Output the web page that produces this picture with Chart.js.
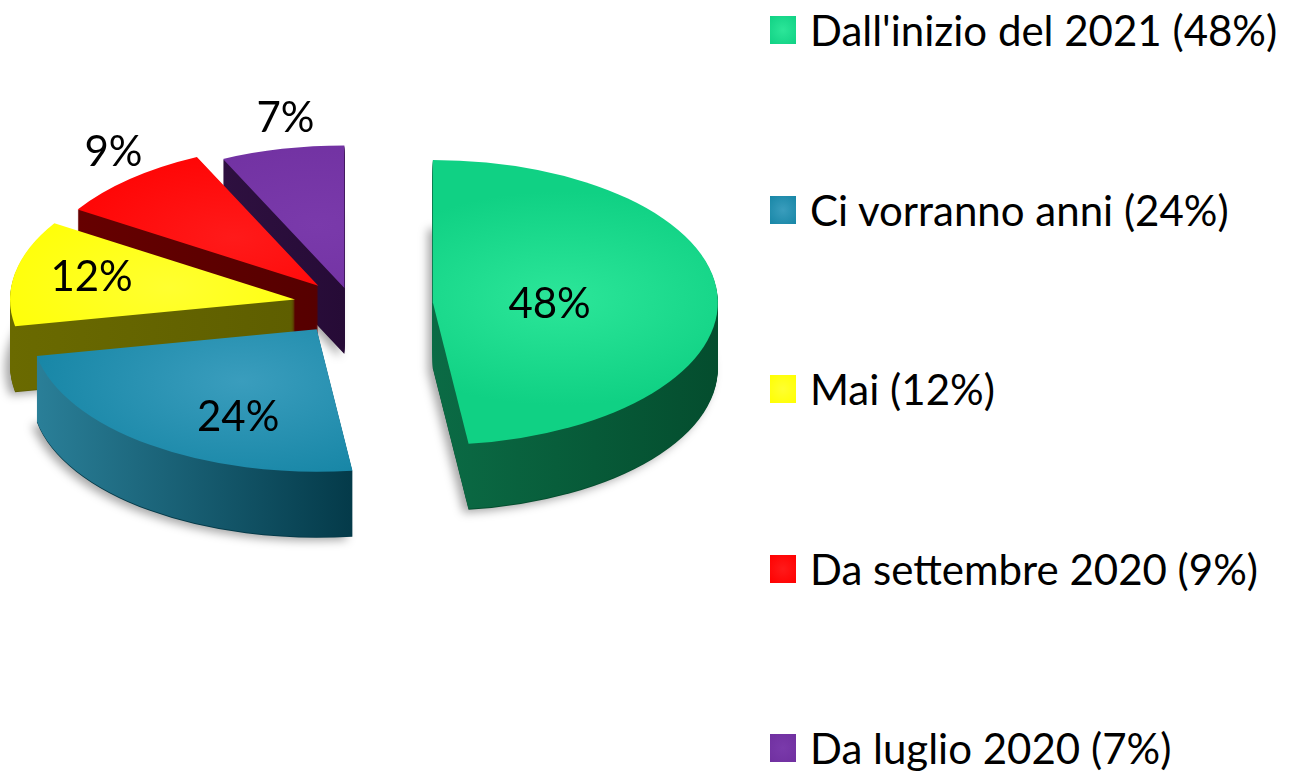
<!DOCTYPE html>
<html>
<head>
<meta charset="utf-8">
<script src="https://cdn.jsdelivr.net/npm/chart.js@4.4.1/dist/chart.umd.min.js"></script>
<style>
  html, body { margin: 0; padding: 0; background: #fff; overflow: hidden; }
  #wrap { position: relative; width: 1300px; height: 773px; }
  #pie { position: absolute; left: 0; top: 0; }
  #legend {
    position: absolute; left: 770px; top: 0; height: 778px;
    display: flex; flex-direction: column; justify-content: space-between;
    font-family: Lato, sans-serif; font-size: 42px; color: #000;
  }
  .item { height: 60px; display: flex; align-items: center; white-space: nowrap; }
  .box { width: 26px; height: 28px; margin-right: 14px; flex: none; }
</style>
</head>
<body>
<div id="wrap">
  <canvas id="pie" width="760" height="773"></canvas>
  <div id="legend"></div>
</div>
<script>
// data
const categories = ["Dall'inizio del 2021", "Ci vorranno anni", "Mai", "Da settembre 2020", "Da luglio 2020"];
const shares = [48, 24, 12, 9, 7];

// colours: top face, highlight, side faces (light -> dark)
const topColors = ["#10d184", "#1786a6", "#ffff00", "#ff0000", "#7030a0"];
const glowColors = ["#2ce699", "#3a9dbd", "#ffff30", "#ff1a1a", "#7a3aab"];
const sideLight = ["#0b6b45", "#2a7f98", "#6a6a00", "#660000", "#2e1040"];
const sideDark = ["#044d2e", "#043a49", "#5e5e00", "#560000", "#260b36"];

// 3d look
const K = 0.5;        // vertical squash of the tilted disc
const DEPTH = 66;     // thickness in px
const CX = 352, CY = 305;
const explode = [81, 60, 58, 51, 35];
// label spot per slice: [fraction of the slice angle, fraction of radius]
const labelSpot = [[0.535, 0.41], [0.36, 0.68], [0.53, 0.73], [0.62, 1.18], [0.61, 1.21]];

function tilt(ctx, arc, dy, push) {
  const mid = (arc.startAngle + arc.endAngle) / 2;
  ctx.translate(CX, CY + dy);
  ctx.scale(1, K);
  ctx.translate(-arc.x + Math.cos(mid) * push, -arc.y + Math.sin(mid) * push);
}

function paint(ctx, arc, fill) {
  const ghost = Object.create(arc);
  ghost.options = Object.assign({}, arc.options, { backgroundColor: fill, borderColor: fill, borderWidth: 0 });
  arc.draw.call(ghost, ctx);
}

function xRange(arc) {
  let lo = 0, hi = 0;
  for (let s = 0; s <= 40; s++) {
    const a = arc.startAngle + (arc.endAngle - arc.startAngle) * s / 40;
    lo = Math.min(lo, Math.cos(a));
    hi = Math.max(hi, Math.cos(a));
  }
  return [arc.x + lo * arc.outerRadius, arc.x + hi * arc.outerRadius];
}

const pie3d = {
  id: "pie3d",
  beforeDatasetsDraw(chart) {
    const ctx = chart.ctx;
    const arcs = chart.getDatasetMeta(0).data;
    const order = arcs.map((a, i) => i).sort((a, b) => {
      const ma = (arcs[a].startAngle + arcs[a].endAngle) / 2;
      const mb = (arcs[b].startAngle + arcs[b].endAngle) / 2;
      return Math.sin(ma) - Math.sin(mb);
    });

    order.forEach(i => {
      const arc = arcs[i];
      const R = arc.outerRadius;
      const mid = (arc.startAngle + arc.endAngle) / 2;
      const [x0, x1] = xRange(arc);

      const side = ctx.createLinearGradient(x0, 0, x1, 0);
      side.addColorStop(0, sideLight[i]);
      side.addColorStop(1, sideDark[i]);

      const top = ctx.createRadialGradient(
        arc.x + Math.cos(mid) * R * 0.45, arc.y + Math.sin(mid) * R * 0.45, 0,
        arc.x + Math.cos(mid) * R * 0.45, arc.y + Math.sin(mid) * R * 0.45, R * 0.75);
      top.addColorStop(0, glowColors[i]);
      top.addColorStop(1, topColors[i]);

      // soft shadow under the slice
      ctx.save();
      ctx.shadowColor = "rgba(0,0,0,0.35)";
      ctx.shadowBlur = 10;
      ctx.shadowOffsetX = -5;
      ctx.shadowOffsetY = 3;
      tilt(ctx, arc, DEPTH, explode[i]);
      paint(ctx, arc, sideDark[i]);
      ctx.restore();

      for (let d = DEPTH - 1; d >= 1; d--) {
        ctx.save();
        tilt(ctx, arc, d, explode[i]);
        paint(ctx, arc, side);
        ctx.restore();
      }

      ctx.save();
      tilt(ctx, arc, 0, explode[i]);
      paint(ctx, arc, top);
      ctx.restore();
    });

    // percentage labels
    ctx.save();
    ctx.font = "42px Lato, sans-serif";
    ctx.fillStyle = "#000";
    ctx.textAlign = "center";
    ctx.textBaseline = "middle";
    arcs.forEach((arc, i) => {
      const mid = (arc.startAngle + arc.endAngle) / 2;
      const [t, f] = labelSpot[i];
      const a = arc.startAngle + t * (arc.endAngle - arc.startAngle);
      const ux = Math.cos(mid) * explode[i] + Math.cos(a) * f * arc.outerRadius;
      const uy = Math.sin(mid) * explode[i] + Math.sin(a) * f * arc.outerRadius;
      ctx.fillText(shares[i] + "%", CX + ux, CY + K * uy);
    });
    ctx.restore();
    return false;
  }
};

const chart = new Chart(document.getElementById("pie"), {
  type: "pie",
  data: {
    labels: categories,
    datasets: [{
      data: shares,
      backgroundColor: topColors,
      borderWidth: 0,
      clip: false
    }]
  },
  options: {
    responsive: false,
    animation: false,
    radius: 285,
    plugins: {
      legend: { display: false },
      tooltip: { enabled: false }
    }
  },
  plugins: [pie3d]
});

// legend on the right
const legend = document.getElementById("legend");
chart.data.labels.forEach((label, i) => {
  const item = document.createElement("div");
  item.className = "item";
  const box = document.createElement("span");
  box.className = "box";
  box.style.background = `radial-gradient(circle, ${glowColors[i]}, ${topColors[i]})`;
  const txt = document.createElement("span");
  txt.textContent = `${label} (${chart.data.datasets[0].data[i]}%)`;
  item.appendChild(box);
  item.appendChild(txt);
  legend.appendChild(item);
});
</script>
</body>
</html>
